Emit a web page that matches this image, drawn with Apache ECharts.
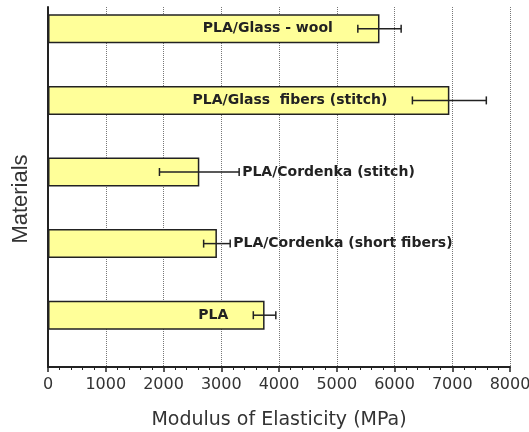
<!DOCTYPE html>
<html lang="en">
<head>
<meta charset="UTF-8">
<title>Modulus of Elasticity</title>
<script src="https://cdn.jsdelivr.net/npm/echarts@6/dist/echarts.min.js"></script>
<style>
    html, body, #chart {
        width: 529px;
        height: 432px;
        margin: 0;
        padding: 0;
        background: #fff;
    }
</style>
</head>
<body>
<div id="chart"></div>
<script>
    // values
    var materials = ["PLA/Glass - wool", "PLA/Glass  fibers (stitch)", "PLA/Cordenka (stitch)", "PLA/Cordenka (short fibers)", "PLA"];
    var modulus = [5740, 6950, 2620, 2925, 3750];
    var modulusErr = [375, 640, 690, 230, 195];

    var labelFont = {family: "DejaVu Sans", size: 14, weight: "bold"};
    var measureCtx = document.createElement("canvas").getContext("2d");
    measureCtx.font = labelFont.weight + " " + labelFont.size + "px \"" + labelFont.family + "\"";

    var errData = materials.map(function (m, i) {
        return [i, modulus[i] - modulusErr[i], modulus[i] + modulusErr[i]];
    });

    function renderErr(params, api) {
        var i = api.value(0);
        var lo = api.coord([api.value(1), i]);
        var hi = api.coord([api.value(2), i]);
        var start = api.coord([0, i]);
        var y = lo[1];
        var cap = 4;
        var stroke = {stroke: "#222", lineWidth: 1.5};
        var name = materials[i];
        var w = measureCtx.measureText(name).width;
        // label goes inside the bar if it fits left of the error bar
        var inside = lo[0] - start[0] > w + 40;
        return {
            type: "group",
            children: [
                {type: "line", shape: {x1: lo[0], y1: y, x2: hi[0], y2: y}, style: stroke},
                {type: "line", shape: {x1: lo[0], y1: y - cap, x2: lo[0], y2: y + cap}, style: stroke},
                {type: "line", shape: {x1: hi[0], y1: y - cap, x2: hi[0], y2: y + cap}, style: stroke},
                {
                    type: "text",
                    x: inside ? lo[0] - 25 : hi[0] + 3,
                    y: y,
                    style: {
                        text: name,
                        align: inside ? "right" : "left",
                        verticalAlign: "middle",
                        fontFamily: labelFont.family,
                        fontSize: labelFont.size,
                        fontWeight: labelFont.weight,
                        fill: "#222"
                    }
                }
            ]
        };
    }

    var chart = echarts.init(document.getElementById("chart"), null, {renderer: "canvas"});
    chart.setOption({
        animation: false,
        grid: [
            // frame: axes, ticks, gridlines
            {left: 48, right: 19, top: 7, bottom: 65, outerBoundsMode: "none", containLabel: false},
            // bars
            {left: 48, right: 19, top: -7, height: 358, outerBoundsMode: "none", containLabel: false}
        ],
        xAxis: [{
            gridIndex: 0,
            type: "value",
            min: 0,
            max: 8000,
            interval: 1000,
            name: "Modulus of Elasticity (MPa)",
            nameLocation: "middle",
            nameGap: 44,
            nameTextStyle: {fontFamily: "DejaVu Sans", fontSize: 19, color: "#333"},
            axisLine: {show: true, lineStyle: {color: "#222", width: 2}},
            axisTick: {show: true, length: 5, lineStyle: {color: "#222", width: 1.5}},
            minorTick: {show: true, splitNumber: 5, length: 3, lineStyle: {color: "#222", width: 1}},
            axisLabel: {
                fontFamily: "DejaVu Sans",
                fontSize: 16,
                color: "#333",
                margin: 10,
                showMinLabel: true,
                showMaxLabel: true,
                hideOverlap: false,
                formatter: function (v) { return String(v); }
            },
            splitLine: {show: true, lineStyle: {type: "dotted", color: "#777", width: 1}}
        }, {
            gridIndex: 1,
            type: "value",
            min: 0,
            max: 8000,
            show: false
        }],
        yAxis: [{
            gridIndex: 0,
            type: "value",
            min: 0,
            max: 1,
            axisLine: {show: true, lineStyle: {color: "#222", width: 2}},
            axisTick: {show: false},
            axisLabel: {show: false},
            splitLine: {show: false}
        }, {
            gridIndex: 1,
            type: "category",
            inverse: true,
            data: materials,
            show: false
        }],
        graphic: [{
            type: "text",
            x: 21,
            y: 199,
            rotation: Math.PI / 2,
            style: {
                text: "Materials",
                align: "center",
                verticalAlign: "middle",
                fontFamily: "Liberation Sans",
                fontSize: 22,
                fill: "#333"
            }
        }],
        series: [{
            type: "bar",
            xAxisIndex: 1,
            yAxisIndex: 1,
            data: modulus,
            barWidth: 29,
            itemStyle: {color: "#ffff99", borderColor: "#222", borderWidth: 1.5},
            z: 2
        }, {
            type: "custom",
            xAxisIndex: 1,
            yAxisIndex: 1,
            data: errData,
            encode: {x: [1, 2], y: 0},
            renderItem: renderErr,
            clip: false,
            z: 3
        }]
    });
</script>
</body>
</html>
